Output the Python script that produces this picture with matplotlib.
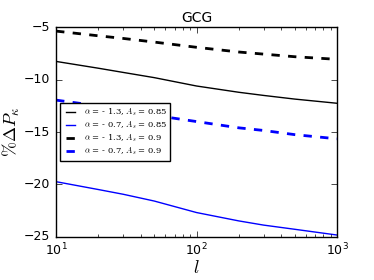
import matplotlib
matplotlib.use('Agg')
import matplotlib.pyplot as plt

# multipoles
ell = [10, 20, 30, 50, 100, 200, 300, 500, 1000]

# % Delta P_kappa
a13_as085 = [-8.25, -8.9, -9.3, -9.8, -10.6, -11.2, -11.5, -11.85, -12.25]
a07_as085 = [-19.75, -20.5, -20.95, -21.6, -22.7, -23.5, -23.9, -24.3, -24.85]
a13_as09 = [-5.35, -5.8, -6.05, -6.4, -6.9, -7.35, -7.55, -7.8, -8.05]
a07_as09 = [-11.95, -12.5, -12.9, -13.4, -14.0, -14.6, -14.85, -15.25, -15.65]

labels = [r'$\alpha$ = - 1.3, $A_s$ = 0.85',
          r'$\alpha$ = - 0.7, $A_s$ = 0.85',
          r'$\alpha$ = - 1.3, $A_s$ = 0.9',
          r'$\alpha$ = - 0.7, $A_s$ = 0.9']

plt.style.use('classic')
plt.rcParams['mathtext.fontset'] = 'cm'

fig = plt.figure(figsize=(3.74, 2.8), dpi=100)
ax = fig.add_axes([0.15, 0.155, 0.751, 0.747])

ax.plot(ell, a13_as085, color='k', lw=1, label=labels[0])
ax.plot(ell, a07_as085, color='b', lw=1, label=labels[1])
ax.plot(ell, a13_as09, color='k', lw=2, ls='--', label=labels[2])
ax.plot(ell, a07_as09, color='b', lw=2, ls='--', label=labels[3])

ax.set_xscale('log')
ax.set_xlim(10, 1000)
ax.set_ylim(-25, -5)
ax.set_yticks([-25, -20, -15, -10, -5])
ax.tick_params(labelsize=9)
ax.set_title('GCG', fontsize=10, pad=4)
ax.set_xlabel(r'$l$', fontsize=13, labelpad=0)
ax.set_ylabel(r'$\%\Delta P_\kappa$', fontsize=13)
ax.yaxis.set_label_coords(-0.12, 0.5)

ax.legend(loc='center left', prop={'family': 'serif', 'size': 6},
          handlelength=1.7, borderpad=0.4, labelspacing=0.2, handletextpad=0.7)

fig.savefig('out.png', dpi=100)
